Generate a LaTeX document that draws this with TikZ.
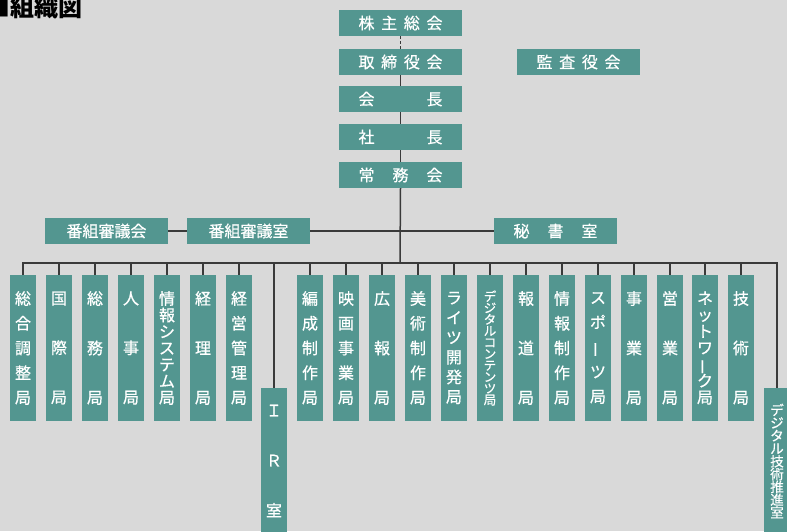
\documentclass[tikz,border=0pt]{standalone}
\usepackage{fontspec}
\newfontfamily\cjk[FakeBold=0.6]{Noto Sans CJK JP}
\newfontfamily\cjktitle{Noto Sans CJK JP}
\setlength{\lineskiplimit}{-50pt}
\definecolor{tealbox}{HTML}{539690}
\definecolor{bgc}{HTML}{D9D9D9}
\definecolor{lnc}{HTML}{3A3A3A}
\newcommand\mychoon{\rotatebox[origin=c]{90}{ー}}
\newcommand\spreadtext[1]{\makebox[84pt]{#1}}
\begin{document}
\begin{tikzpicture}[x=1pt,y=-1pt,
  hbox/.style={fill=tealbox, text=white, minimum width=123pt, minimum height=26pt, inner sep=0pt, font=\cjk\fontsize{16}{16}\selectfont},
  vbox/.style={fill=tealbox, text=white, minimum width=26pt, minimum height=146pt, inner sep=0pt, align=center, font=\cjk\fontsize{16}{#1}\selectfont},
  vbox/.default=24.75,
  conn/.style={draw=lnc, line width=1.5pt},
  dashconn/.style={draw=lnc, line width=1.5pt, dash pattern=on 3pt off 2pt},
]
\useasboundingbox (0,0) rectangle (787,531);
\clip (0,0) rectangle (787,531);
\fill[bgc] (0,0) rectangle (787,531);

% title
\node[anchor=base west, inner sep=0pt, font=\cjktitle\bfseries\fontsize{24}{24}\selectfont] (title) at (-14,16) {■組織図};

% top column
\node[hbox] (kabu)   at (400.5,23)  {\spreadtext{株\hfill 主\hfill 総\hfill 会}};
\node[hbox] (tori)   at (400.5,62)  {\spreadtext{取\hfill 締\hfill 役\hfill 会}};
\node[hbox] (kaicho) at (400.5,99)  {\spreadtext{会\hfill 長}};
\node[hbox] (shacho) at (400.5,137) {\spreadtext{社\hfill 長}};
\node[hbox] (jomu)   at (400.5,175) {\spreadtext{常\hfill 務\hfill 会}};
\node[hbox] (kansa)  at (578.5,62)  {\spreadtext{監\hfill 査\hfill 役\hfill 会}};

% middle row
\node[hbox] (bkai)   at (106.5,231) {番組審議会};
\node[hbox] (bshitsu) at (248.5,231) {番組審議室};
\node[hbox] (hisho)  at (555.5,231) {\spreadtext{秘\hfill 書\hfill 室}};

% bottom row
\node[vbox] (b1) at (23,348)  {総\\合\\調\\整\\局};
\node[vbox=49.5] (b2) at (59,348)  {国\\際\\局};
\node[vbox=49.5] (b3) at (95,348)  {総\\務\\局};
\node[vbox=49.5] (b4) at (131,348) {人\\事\\局};
\node[vbox=16.5] (b5) at (167,348) {情\\報\\シ\\ス\\テ\\ム\\局};
\node[vbox=49.5] (b6) at (203,348) {経\\理\\局};
\node[vbox] (b7) at (239,348) {経\\営\\管\\理\\局};
\node[vbox=50] (ir) at (274,461) {Ｉ\\Ｒ\\室};
\node[vbox] (c1) at (310,348) {編\\成\\制\\作\\局};
\node[vbox] (c2) at (346,348) {映\\画\\事\\業\\局};
\node[vbox=49.5] (c3) at (382,348) {広\\報\\局};
\node[vbox] (c4) at (418,348) {美\\術\\制\\作\\局};
\node[vbox=19.8] (c5) at (454,348) {ラ\\イ\\ツ\\開\\発\\局};
\node[vbox, font=\cjk\fontsize{12.5}{11.5}\selectfont] (c6) at (490,348) {デ\\ジ\\タ\\ル\\コ\\ン\\テ\\ン\\ツ\\局};
\node[vbox=49.5] (c7) at (526,348) {報\\道\\局};
\node[vbox] (c8) at (562,348) {情\\報\\制\\作\\局};
\node[vbox] (c9) at (598,348) {ス\\ポ\\\mychoon\\ツ\\局};
\node[vbox=49.5] (c10) at (634,348) {事\\業\\局};
\node[vbox=49.5] (c11) at (670,348) {営\\業\\局};
\node[vbox=16.5] (c12) at (705,348) {ネ\\ッ\\ト\\ワ\\\mychoon\\ク\\局};
\node[vbox=49.5] (c13) at (741,348) {技\\術\\局};
\node[vbox, font=\cjk\fontsize{13.5}{12.8}\selectfont] (dx) at (777,461) {デ\\ジ\\タ\\ル\\技\\術\\推\\進\\室};

% connectors
\coordinate (bus) at (400,263);
\draw[dashconn] (kabu.south) -- (tori.north);
\draw[conn] (tori.south) -- (kaicho.north);
\draw[conn] (kaicho.south) -- (shacho.north);
\draw[conn] (shacho.south) -- (jomu.north);
\draw[conn] (jomu.south) -- (bus);
\draw[conn] (bkai.east) -- (bshitsu.west);
\draw[conn] (bshitsu.east) -- (hisho.west);
\draw[conn] (b1.north) -- (b1.north |- bus) -- (dx.north |- bus) -- (dx.north);
\foreach \n in {b2,b3,b4,b5,b6,b7,ir,c1,c2,c3,c4,c5,c6,c7,c8,c9,c10,c11,c12,c13}
  \draw[conn] (\n.north |- bus) -- (\n.north);
\end{tikzpicture}
\end{document}
